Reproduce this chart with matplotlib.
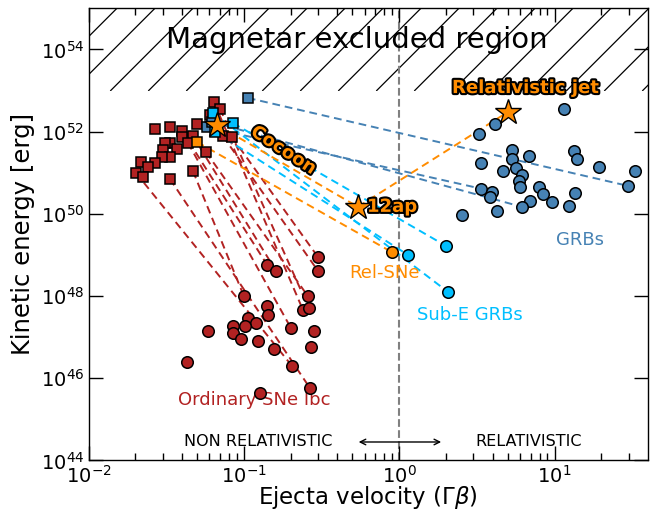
import numpy as np
import matplotlib
matplotlib.use("Agg")
import matplotlib.pyplot as plt
import matplotlib.patheffects as pe
from matplotlib.ticker import FixedLocator, NullLocator, LogFormatterMathtext, LogLocator

# ---------------- data ----------------
# Ordinary SNe Ibc: early (squares) and late (circles)
sn_sq_v = [0.0642, 0.0702, 0.0605, 0.0499, 0.0334, 0.0268, 0.0400, 0.0400, 0.0470,
           0.0436, 0.0334, 0.0311, 0.0301, 0.0371, 0.0334, 0.0297, 0.0268, 0.0218,
           0.0241, 0.0202, 0.0224, 0.0470, 0.0334, 0.0570, 0.0733, 0.0838]
sn_sq_e = [5.2e52, 3.6e52, 2.6e52, 1.55e52, 1.29e52, 1.15e52, 1.04e52, 7.4e51, 7.8e51,
           5.4e51, 5.4e51, 5.4e51, 3.6e51, 3.8e51, 2.4e51, 2.4e51, 1.74e51, 1.83e51,
           1.38e51, 9.9e50, 7.9e50, 1.1e51, 7.1e50, 3.2e51, 7.8e51, 7.4e51]
sn_ci_v = [0.300, 0.300, 0.141, 0.161, 0.100, 0.258, 0.141, 0.143, 0.240, 0.262,
           0.106, 0.120, 0.085, 0.102, 0.085, 0.0958, 0.0588, 0.123, 0.201, 0.282,
           0.156, 0.270, 0.0430, 0.204, 0.266, 0.127]
sn_ci_e = [8.9e48, 4.1e48, 5.8e48, 4.1e48, 1.0e48, 1.0e48, 5.7e47, 3.5e47, 4.6e47, 5.1e47,
           2.9e47, 2.2e47, 1.9e47, 1.9e47, 1.26e47, 9.1e46, 1.4e47, 8.1e46, 1.66e47, 1.4e47,
           5.1e46, 5.8e46, 2.5e46, 2.0e46, 5.8e45, 4.4e45]
# connections: (square index, circle index)
sn_links = [(25, 0), (24, 1), (6, 2), (8, 3), (21, 4), (23, 5), (0, 8), (1, 9),
            (9, 18), (19, 23), (22, 24)]

# GRBs
grb_sq_v = [0.106, 0.058, 0.0625]
grb_sq_e = [6.6e52, 1.29e52, 1.7e52]
grb_ci_v = [11.5, 4.13, 3.26, 5.31, 6.83, 3.36, 5.31, 4.65, 5.63, 6.16, 5.89, 5.98, 7.93,
            8.41, 9.61, 3.36, 3.95, 3.84, 6.93, 6.16, 4.25, 12.4, 13.5, 13.3, 13.9, 19.3,
            32.9, 29.6, 2.53]
grb_ci_e = [3.5e52, 1.55e52, 8.7e51, 3.6e51, 2.6e51, 1.74e51, 2.2e51, 1.1e51, 1.3e51,
            8.9e50, 6.3e50, 4.5e50, 4.5e50, 3.0e50, 1.95e50, 4.1e50, 3.4e50, 2.5e50,
            2.05e50, 1.48e50, 1.17e50, 1.55e50, 3.2e50, 3.4e51, 2.2e51, 1.38e51, 1.1e51,
            4.8e50, 9.4e49]
grb_links = [(0, 27), (1, 15), (2, 19)]

# Sub-energetic GRBs
sub_sq_v = [0.0632, 0.085, 0.0652]
sub_sq_e = [2.85e52, 1.62e52, 9.8e51]
sub_ci_v = [2.00, 1.14, 2.06]
sub_ci_e = [1.66e49, 1.0e49, 1.26e48]
sub_links = [(1, 0), (2, 1), (0, 2)]

# Relativistic SNe
rel_sq_v = [0.0499]
rel_sq_e = [5.6e51]
rel_ci_v = [0.897]
rel_ci_e = [1.17e49]

# SN 2012ap: cocoon, 12ap, relativistic jet
star_names = ["Cocoon", "12ap", "Relativistic jet"]
star_v = [0.0671, 0.542, 5.0]
star_e = [1.45e52, 1.48e50, 3.0e52]

# ---------------- style ----------------
C_SN = "#B22222"
C_GRB = "#4682B4"
C_SUB = "#00BFFF"
C_REL = "#FF8C00"

fig = plt.figure(figsize=(6.58, 5.12), dpi=100)
ax = fig.add_axes([0.1345, 0.1006, 0.8500, 0.8832])
ax.set_xscale("log")
ax.set_yscale("log")
ax.set_xlim(1e-2, 39.8)
ax.set_ylim(1e44, 1e55)

# magnetar excluded region (hatch drawn as lines in axes coords)
y0 = (53 - 44) / 11.0
W, H = 0.85 * 658, 0.8832 * 512
clip = plt.Rectangle((0, y0), 1, 1 - y0, transform=ax.transAxes, facecolor="none",
                     edgecolor="none")
ax.add_patch(clip)
spacing = 38.0 / W
dx = (1 - y0) * H / W
for xs in np.arange(-0.3, 1.05, spacing):
    l, = ax.plot([xs, xs + dx], [y0, 1.0], transform=ax.transAxes, color="black",
                 lw=0.9, zorder=1)
    l.set_clip_path(clip)

ax.text(0.534, 10**54.23, "Magnetar excluded region", fontsize=21, ha="center",
        va="center", zorder=6)

# vertical dashed line at Gamma beta = 1
ax.axvline(1.0, color="gray", ls="--", lw=1.5, zorder=1)

ms_sq = 7
ms_ci = 8.3
mew = 1.1

def links(xs, ys, xc, yc, pairs, color):
    for i, j in pairs:
        ax.plot([xs[i], xc[j]], [ys[i], yc[j]], ls="--", color=color, lw=1.4,
                dashes=(4, 2.5), zorder=2)

links(sn_sq_v, sn_sq_e, sn_ci_v, sn_ci_e, sn_links, C_SN)
links(grb_sq_v, grb_sq_e, grb_ci_v, grb_ci_e, grb_links, C_GRB)
links(sub_sq_v, sub_sq_e, sub_ci_v, sub_ci_e, sub_links, C_SUB)
links(rel_sq_v, rel_sq_e, rel_ci_v, rel_ci_e, [(0, 0)], C_REL)
links(star_v, star_e, star_v, star_e, [(0, 1), (1, 2)], C_REL)

def pts(xv, yv, marker, color, ms):
    ax.plot(xv, yv, ls="none", marker=marker, ms=ms, mfc=color, mec="black", mew=mew,
            zorder=4)

pts(sn_sq_v, sn_sq_e, "s", C_SN, ms_sq)
pts(sn_ci_v, sn_ci_e, "o", C_SN, ms_ci)
pts(grb_sq_v, grb_sq_e, "s", C_GRB, ms_sq)
pts(grb_ci_v, grb_ci_e, "o", C_GRB, ms_ci)
pts(sub_sq_v, sub_sq_e, "s", C_SUB, ms_sq)
pts(sub_ci_v, sub_ci_e, "o", C_SUB, ms_ci)
pts(rel_sq_v, rel_sq_e, "s", C_REL, ms_sq)
pts(rel_ci_v, rel_ci_e, "o", C_REL, ms_ci)
ax.plot(star_v, star_e, ls="none", marker="*", ms=19, mfc=C_REL, mec="black", mew=1.0,
        zorder=5)

stroke = [pe.withStroke(linewidth=3, foreground="black")]
ax.text(0.179, 10**51.55, "Cocoon", color=C_REL, fontsize=13, fontweight="bold",
        rotation=-33, ha="center", va="center", path_effects=stroke, zorder=6)
ax.text(0.62, 10**50.17, "12ap", color=C_REL, fontsize=13, fontweight="bold",
        ha="left", va="center", path_effects=stroke, zorder=6)
ax.text(6.45, 10**53.06, "Relativistic jet", color=C_REL, fontsize=13,
        fontweight="bold", ha="center", va="center", path_effects=stroke, zorder=6)

ax.text(14.5, 10**49.37, "GRBs", color=C_GRB, fontsize=13, ha="center", va="center")
ax.text(0.80, 10**48.55, "Rel-SNe", color=C_REL, fontsize=13, ha="center", va="center")
ax.text(2.83, 10**47.55, "Sub-E GRBs", color=C_SUB, fontsize=13, ha="center",
        va="center")
ax.text(0.116, 10**45.46, "Ordinary SNe Ibc", color=C_SN, fontsize=13, ha="center",
        va="center")

ax.text(0.123, 10**44.45, "NON RELATIVISTIC", fontsize=11.5, ha="center", va="center")
ax.text(6.83, 10**44.45, "RELATIVISTIC", fontsize=11.5, ha="center", va="center")
ax.annotate("", xy=(1.94, 10**44.45), xytext=(0.526, 10**44.45),
            arrowprops=dict(arrowstyle="<->", color="black", lw=1.0))

ax.set_xlabel(r"Ejecta velocity ($\Gamma\beta$)", fontsize=16.5, labelpad=-1.5)
ax.set_ylabel("Kinetic energy [erg]", fontsize=17.5, labelpad=4)

ax.yaxis.set_major_locator(FixedLocator([10.0**k for k in range(44, 55, 2)]))
ax.yaxis.set_minor_locator(NullLocator())
ax.yaxis.set_major_formatter(LogFormatterMathtext())
ax.xaxis.set_major_locator(FixedLocator([1e-2, 1e-1, 1e0, 1e1]))
ax.xaxis.set_minor_locator(LogLocator(base=10, subs=np.arange(2, 10), numticks=20))
ax.tick_params(which="both", direction="in", top=True, right=True, labelsize=14)
ax.tick_params(which="major", length=10, width=1, pad=3)
ax.tick_params(which="minor", length=5, width=1)
for s in ax.spines.values():
    s.set_linewidth(1.0)

fig.savefig("out.png", dpi=100)
